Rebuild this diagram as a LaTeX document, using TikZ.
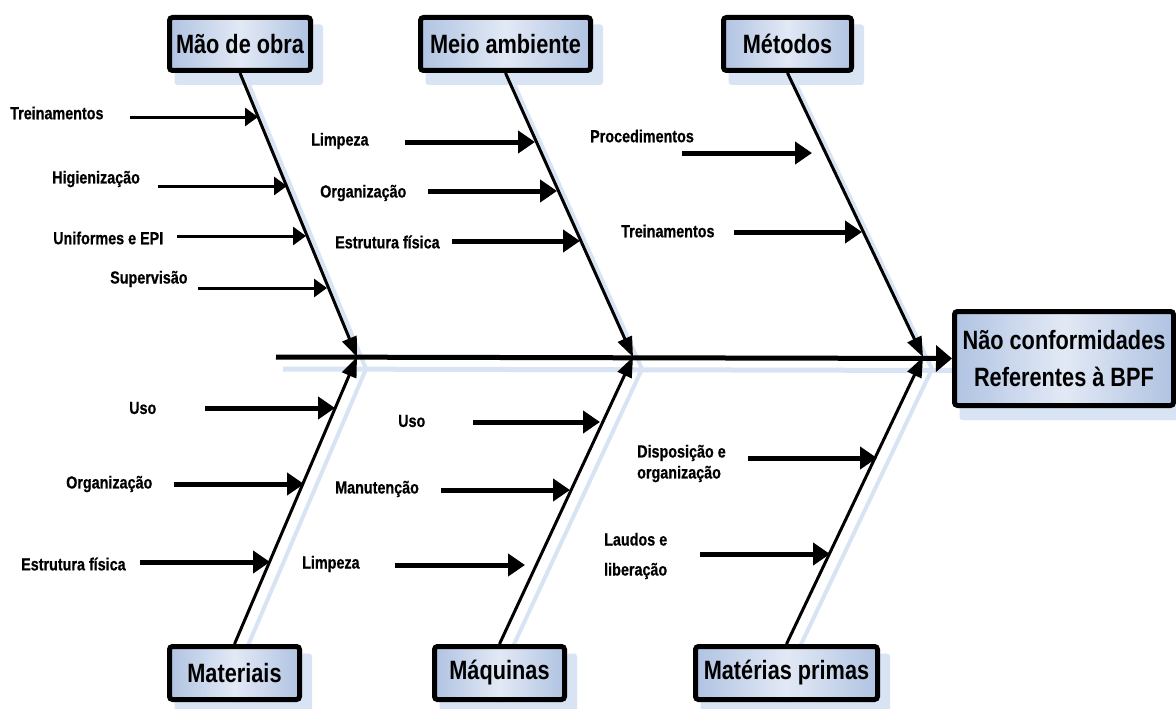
\documentclass[tikz,border=0pt]{standalone}
\usepackage{fontspec}
\setmainfont{Liberation Sans}[FakeStretch=0.82]
\newfontfamily\lblfont{Liberation Sans}[FakeStretch=0.82, BoldFeatures={FakeBold=0.6}]
\usetikzlibrary{arrows.meta}
\definecolor{shadowblue}{RGB}{216,227,243}
\definecolor{boxblue}{RGB}{176,195,226}
\definecolor{boxlight}{RGB}{226,233,245}
\pgfdeclarelayer{bg}
\pgfsetlayers{bg,main}
\begin{document}
\begin{tikzpicture}[x=1pt,y=-1pt,
  cat/.style={draw=black, line width=5pt, rounded corners=3pt,
    left color=boxblue, right color=boxblue, middle color=boxlight,
    font=\fontsize{26.5}{30}\selectfont\bfseries, inner sep=0pt,
    minimum height=53pt, align=center},
  lbl/.style={font=\lblfont\fontsize{17.5}{21}\selectfont\bfseries, anchor=west, inner sep=0pt, align=left},
  tarrow/.style={line width=3pt, -{Triangle[length=13pt,width=18pt]}},
  karrow/.style={line width=5pt, -{Triangle[length=17pt,width=22pt]}},
  bone/.style={line width=3pt, -{Triangle[length=20pt,width=15pt]}},
  spine/.style={line width=5pt, -{Triangle[length=16pt,width=26pt]}},
  shadowline/.style={draw=shadowblue, line width=5pt},
  shadowbox/.style={fill=shadowblue, rounded corners=3pt}
]
\useasboundingbox (0,0) rectangle (1176,709);
\clip (0,0) rectangle (1176,709);

% category boxes
\node[cat, minimum width=141pt] (mdo) at (240,44) {Mão de obra};
\node[cat, minimum width=170pt] (mam) at (505.5,44) {Meio ambiente};
\node[cat, minimum width=128pt] (met) at (787.5,44) {Métodos};
\node[cat, minimum width=130pt] (mat) at (234.5,673) {Materiais};
\node[cat, minimum width=130pt] (maq) at (499.5,673) {Máquinas};
\node[cat, minimum width=182pt] (mpr) at (786.5,673) {Matérias primas};
\node[cat, minimum width=219pt, minimum height=94pt,
  font=\fontsize{26.5}{37}\selectfont\bfseries] (main) at (1064,358.5)
  {Não conformidades\\Referentes à BPF};

% junctions on the spine
\coordinate (sp) at (276,357);
\coordinate (j1) at (357,357);
\coordinate (j2) at (633,357);
\coordinate (j3) at (923,357);

% shadows
\begin{pgfonlayer}{bg}
  \foreach \b in {mdo,mam,met,mat,maq,mpr,main}{
    \path[shadowbox] ([shift={(10,12)}]\b.north west) ++(-2.5,-2.5) rectangle ([shift={(10,12)}]\b.south east) ++(2.5,2.5);
  }
  \draw[shadowline] ([shift={(7,12)}]sp) -- ([shift={(7,12)}]main.west);
  \foreach \b/\j in {mdo/j1,mam/j2,met/j3}{
    \draw[shadowline, line width=4pt] ([shift={(9,12)}]\b.south) -- ([shift={(9,12)}]\j);
  }
  \foreach \b/\j in {mat/j1,maq/j2,mpr/j3}{
    \draw[shadowline, line width=4pt] ([shift={(9,12)}]\b.north) -- ([shift={(9,12)}]\j);
  }
\end{pgfonlayer}

% spine and bones
\draw[spine] (sp) -- (main.west);
\draw[bone] (mdo.south) -- (j1);
\draw[bone] (mam.south) -- (j2);
\draw[bone] (met.south) -- (j3);
\draw[bone] (mat.north) -- (j1);
\draw[bone] (maq.north) -- (j2);
\draw[bone] (mpr.north) -- (j3);

% labels
\node[lbl] (l1) at (10,113) {Treinamentos};
\node[lbl] (l2) at (52,179) {Higienização};
\node[lbl] (l3) at (53,238) {Uniformes e EPI};
\node[lbl] (l4) at (110,279) {Supervisão};
\node[lbl] (l5) at (311,141) {Limpeza};
\node[lbl] (l6) at (320,193) {Organização};
\node[lbl] (l7) at (335,242) {Estrutura física};
\node[lbl] (l8) at (590,136) {Procedimentos};
\node[lbl] (l9) at (621,231) {Treinamentos};
\node[lbl] (l10) at (129,408) {Uso};
\node[lbl] (l11) at (66,484) {Organização};
\node[lbl] (l12) at (21,564) {Estrutura física};
\node[lbl] (l13) at (398,421) {Uso};
\node[lbl] (l14) at (335,489) {Manutenção};
\node[lbl] (l15) at (302,564) {Limpeza};
\node[lbl] (l16) at (637,463.5) {Disposição e\\organização};
\node[lbl, font=\lblfont\fontsize{17.5}{30}\selectfont\bfseries] (l17) at (604,556) {Laudos e\\liberação};

% cause arrows
\foreach \n/\xa/\xb/\yy in {a1/130/258/117, a2/158/287/186, a3/177/306/236, a4/198/327/288,
  b1/405/535/142, b2/428/557/191, b3/452/580/241, c1/682/812/153, c2/734/862/232,
  d1/205/335/408, d2/174/304/484, d3/140/270/562, e1/473/600/422, e2/441/570/490,
  e3/395/525/565, f1/748/877/458, f2/700/830/554}{
  \coordinate (\n s) at (\xa,\yy);
  \coordinate (\n e) at (\xb,\yy);
}
\foreach \n in {a1,a2,a3,a4}{ \draw[tarrow] (\n s) -- (\n e); }
\foreach \n in {b1,b2,b3,c1,c2,d1,d2,d3,e1,e2,e3,f1,f2}{ \draw[karrow] (\n s) -- (\n e); }
\end{tikzpicture}
\end{document}
